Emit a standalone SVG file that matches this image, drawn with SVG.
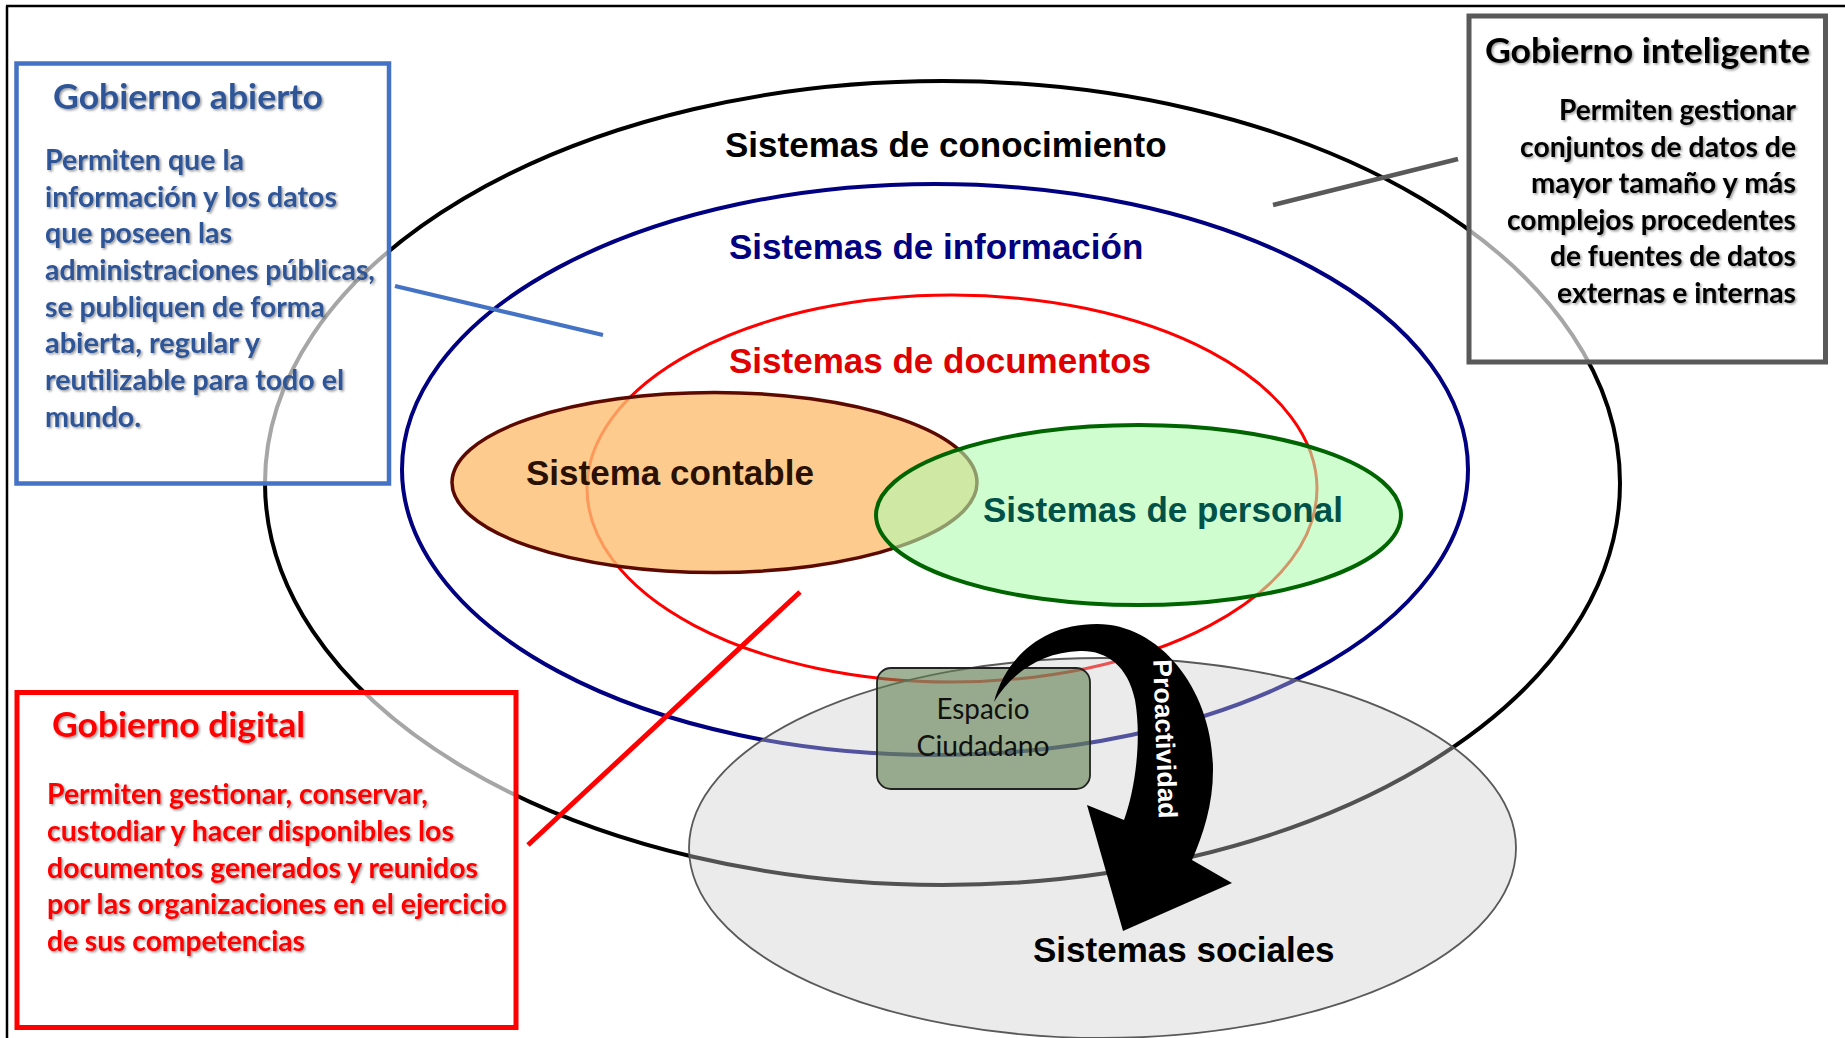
<svg xmlns="http://www.w3.org/2000/svg" width="1845" height="1038" viewBox="0 0 1845 1038">
<defs>
<style>
.sys{font-family:"Liberation Sans",Arial,sans-serif;font-weight:700;font-size:35px}
.bt{font-family:Lato,"Open Sans",sans-serif;font-weight:700;font-size:28px}
.bh{font-family:Lato,"Open Sans",sans-serif;font-weight:700;font-size:34px}
.box{fill:#fff;fill-opacity:0.65}
.conn{fill:none;stroke-linecap:butt}
</style>
<filter id="ts" x="-5%" y="-20%" width="110%" height="140%">
<feDropShadow dx="1.5" dy="1.5" stdDeviation="1" flood-color="#000" flood-opacity="0.4"/>
</filter>
</defs>
<rect x="0" y="0" width="1845" height="1038" fill="#fff"/>
<g id="frame" stroke="#000" stroke-width="2.5" fill="none">
<line x1="7" y1="6" x2="7" y2="1038"/>
<line x1="6" y1="6" x2="1845" y2="6"/>
</g>

<g id="node-conocimiento">
<ellipse cx="942.5" cy="483" rx="677.5" ry="402" fill="none" stroke="#000" stroke-width="4"/>
<text class="sys" x="725" y="157" fill="#000">Sistemas de conocimiento</text>
</g>
<g id="node-informacion">
<ellipse cx="935" cy="469.5" rx="533" ry="285.5" fill="none" stroke="#000080" stroke-width="4"/>
<text class="sys" x="729" y="259" fill="#000080">Sistemas de información</text>
</g>
<g id="node-documentos">
<ellipse cx="952" cy="488.5" rx="365" ry="193.5" fill="none" stroke="#ff0000" stroke-width="3"/>
<text class="sys" x="729" y="373" fill="#e00000">Sistemas de documentos</text>
</g>
<g id="node-contable">
<ellipse cx="714.5" cy="482.5" rx="262.5" ry="90" fill="#fcbe72" fill-opacity="0.8" stroke="#5c0a00" stroke-width="3.5"/>
<text class="sys" x="526" y="485" fill="#2a1000">Sistema contable</text>
</g>
<g id="node-personal">
<ellipse cx="1138.5" cy="515" rx="262.5" ry="90" fill="#b1fcb1" fill-opacity="0.6" stroke="#006400" stroke-width="4"/>
<text class="sys" x="983" y="522" fill="#005249">Sistemas de personal</text>
</g>
<g id="node-sociales">
<ellipse cx="1102.5" cy="848" rx="413.5" ry="190" fill="#cccccc" fill-opacity="0.4" stroke="#595959" stroke-width="1.8"/>
<text class="sys" x="1033" y="962" fill="#000">Sistemas sociales</text>
</g>
<g id="node-espacio">
<rect x="877" y="668" width="213" height="121" rx="14" fill="#617e4f" fill-opacity="0.6" stroke="#222" stroke-width="1.8"/>
<text x="936.5" y="719" textLength="93" lengthAdjust="spacingAndGlyphs" font-family="Lato,'Open Sans',sans-serif" font-size="28" fill="#111">Espacio</text>
<text x="916.5" y="756" textLength="133" lengthAdjust="spacingAndGlyphs" font-family="Lato,'Open Sans',sans-serif" font-size="28" fill="#111">Ciudadano</text>
</g>
<g id="node-proactividad">
<path d="M 994 702 C 1005 660, 1040 624, 1097 624 C 1160 624, 1213 690, 1213 770 C 1213 805, 1203 835, 1192 860 L 1232 883 L 1123 931 L 1087 805 L 1124 820 C 1135 790, 1142 740, 1135 700 C 1128 665, 1105 650, 1080 651 C 1040 652, 1010 675, 994 702 Z" fill="#000"/>
<text x="1165" y="739" text-anchor="middle" dominant-baseline="central" transform="rotate(88 1165 739)" font-family="'Liberation Sans',Arial,sans-serif" font-weight="700" font-size="26.5" fill="#fff">Proactividad</text>
</g>

<g id="node-abierto">
<rect class="box" x="16.5" y="63.5" width="372.5" height="420" stroke="#4472c4" stroke-width="4.5"/>
<g filter="url(#ts)" fill="#2f5597">
<text class="bh" x="53" y="109" textLength="270" lengthAdjust="spacingAndGlyphs">Gobierno abierto</text>
<text class="bt" x="45" y="170" textLength="199" lengthAdjust="spacingAndGlyphs">Permiten que la</text>
<text class="bt" x="45" y="207" textLength="292" lengthAdjust="spacingAndGlyphs">información y los datos</text>
<text class="bt" x="45" y="243" textLength="187" lengthAdjust="spacingAndGlyphs">que poseen las</text>
<text class="bt" x="45" y="280" textLength="330" lengthAdjust="spacingAndGlyphs">administraciones públicas,</text>
<text class="bt" x="45" y="317" textLength="280" lengthAdjust="spacingAndGlyphs">se publiquen de forma</text>
<text class="bt" x="45" y="353" textLength="215" lengthAdjust="spacingAndGlyphs">abierta, regular y</text>
<text class="bt" x="45" y="390" textLength="299" lengthAdjust="spacingAndGlyphs">reutilizable para todo el</text>
<text class="bt" x="45" y="427" textLength="96" lengthAdjust="spacingAndGlyphs">mundo.</text>
</g>
</g>

<g id="node-inteligente">
<rect class="box" x="1469" y="16" width="356.5" height="346" stroke="#595959" stroke-width="5"/>
<g filter="url(#ts)" fill="#000">
<text class="bh" x="1485" y="63" textLength="325" lengthAdjust="spacingAndGlyphs">Gobierno inteligente</text>
<text class="bt" x="1559" y="120" textLength="237" lengthAdjust="spacingAndGlyphs">Permiten gestionar</text>
<text class="bt" x="1520" y="157" textLength="276" lengthAdjust="spacingAndGlyphs">conjuntos de datos de</text>
<text class="bt" x="1531" y="193" textLength="265" lengthAdjust="spacingAndGlyphs">mayor tamaño y más</text>
<text class="bt" x="1507" y="230" textLength="289" lengthAdjust="spacingAndGlyphs">complejos procedentes</text>
<text class="bt" x="1550" y="266" textLength="246" lengthAdjust="spacingAndGlyphs">de fuentes de datos</text>
<text class="bt" x="1557" y="303" textLength="239" lengthAdjust="spacingAndGlyphs">externas e internas</text>
</g>
</g>

<g id="node-digital">
<rect class="box" x="17" y="692.5" width="499" height="335" stroke="#ff0000" stroke-width="5"/>
<g filter="url(#ts)" fill="#ff0000">
<text class="bh" x="52" y="737" textLength="253" lengthAdjust="spacingAndGlyphs">Gobierno digital</text>
<text class="bt" x="47" y="804" textLength="381" lengthAdjust="spacingAndGlyphs">Permiten gestionar, conservar,</text>
<text class="bt" x="47" y="841" textLength="407" lengthAdjust="spacingAndGlyphs">custodiar y hacer disponibles los</text>
<text class="bt" x="47" y="878" textLength="431" lengthAdjust="spacingAndGlyphs">documentos generados y reunidos</text>
<text class="bt" x="47" y="914" textLength="460" lengthAdjust="spacingAndGlyphs">por las organizaciones en el ejercicio</text>
<text class="bt" x="47" y="951" textLength="258" lengthAdjust="spacingAndGlyphs">de sus competencias</text>
</g>
</g>

<g id="connectors">
<line class="conn" x1="395" y1="286" x2="603" y2="335" stroke="#4472c4" stroke-width="4"/>
<line class="conn" x1="800" y1="592" x2="528" y2="845" stroke="#ff0000" stroke-width="5"/>
<line class="conn" x1="1273" y1="205" x2="1458" y2="159" stroke="#595959" stroke-width="4.5"/>
</g>
</svg>
